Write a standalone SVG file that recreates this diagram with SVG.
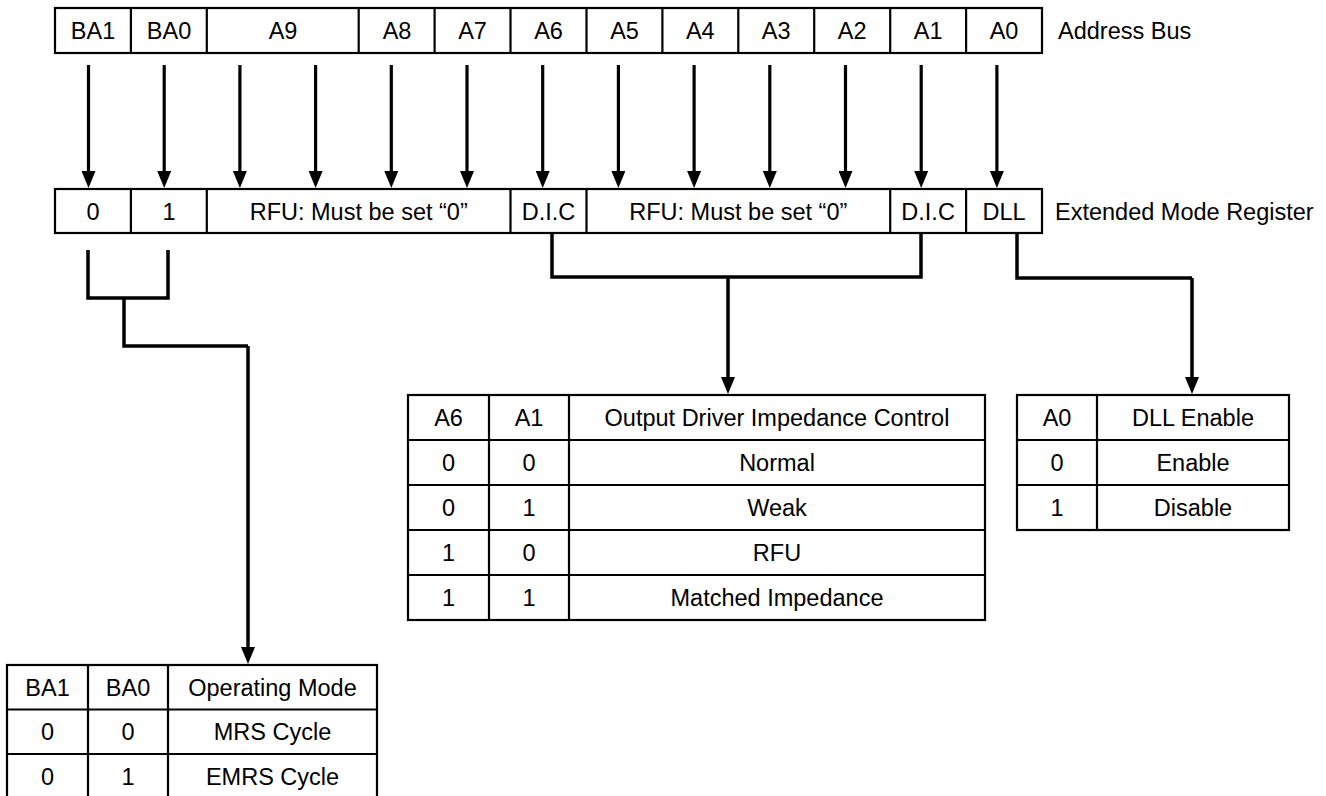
<svg xmlns="http://www.w3.org/2000/svg" width="1326" height="796" viewBox="0 0 1326 796">
<defs>
<marker id="ah" markerUnits="userSpaceOnUse" markerWidth="17" markerHeight="14" refX="0" refY="7" orient="auto">
<path d="M0,0 L17,7 L0,14 z" fill="#000"/>
</marker>
<style>
.box{fill:#fff;stroke:#000;stroke-width:2.2}
.ln{stroke:#000;stroke-width:2.2;fill:none}
.t{font-family:"Liberation Sans",Arial,sans-serif;font-size:23.5px;fill:#000;text-anchor:middle}
.lbl{font-family:"Liberation Sans",Arial,sans-serif;font-size:23.5px;fill:#000;text-anchor:start}
.arr{stroke:#000;stroke-width:3.2;fill:none;marker-end:url(#ah)}
.br{stroke:#000;stroke-width:3.5;fill:none;stroke-linejoin:miter}
</style>
</defs>
<rect width="1326" height="796" fill="#fff"/>

<g id="address-bus">
<rect class="box" x="55" y="8" width="987" height="45"/>
<path class="ln" d="M130.9,8V53M206.8,8V53M358.7,8V53M434.6,8V53M510.5,8V53M586.5,8V53M662.4,8V53M738.3,8V53M814.2,8V53M890.2,8V53M966.1,8V53"/>
<text class="t" x="93" y="39">BA1</text>
<text class="t" x="169" y="39">BA0</text>
<text class="t" x="283" y="39">A9</text>
<text class="t" x="397" y="39">A8</text>
<text class="t" x="472.5" y="39">A7</text>
<text class="t" x="548.5" y="39">A6</text>
<text class="t" x="624.5" y="39">A5</text>
<text class="t" x="700.3" y="39">A4</text>
<text class="t" x="776.2" y="39">A3</text>
<text class="t" x="852.2" y="39">A2</text>
<text class="t" x="928.1" y="39">A1</text>
<text class="t" x="1004" y="39">A0</text>
<text class="lbl" x="1058" y="39">Address Bus</text>
</g>

<g id="mode-register">
<rect class="box" x="55" y="189" width="987" height="44"/>
<path class="ln" d="M130.9,189V233M206.8,189V233M510.5,189V233M586.5,189V233M890.2,189V233M966.1,189V233"/>
<text class="t" x="93" y="219.5">0</text>
<text class="t" x="169" y="219.5">1</text>
<text class="t" x="358.7" y="219.5">RFU: Must be set “0”</text>
<text class="t" x="548.5" y="219.5">D.I.C</text>
<text class="t" x="738.3" y="219.5">RFU: Must be set “0”</text>
<text class="t" x="928.1" y="219.5">D.I.C</text>
<text class="t" x="1004" y="219.5">DLL</text>
<text class="lbl" x="1055" y="219.5">Extended Mode Register</text>
</g>

<g id="connectors">
<line class="arr" x1="88.5" y1="65" x2="88.5" y2="171"/>
<line class="arr" x1="164.2" y1="65" x2="164.2" y2="171"/>
<line class="arr" x1="239.9" y1="65" x2="239.9" y2="171"/>
<line class="arr" x1="315.6" y1="65" x2="315.6" y2="171"/>
<line class="arr" x1="391.3" y1="65" x2="391.3" y2="171"/>
<line class="arr" x1="467" y1="65" x2="467" y2="171"/>
<line class="arr" x1="542.7" y1="65" x2="542.7" y2="171"/>
<line class="arr" x1="618.4" y1="65" x2="618.4" y2="171"/>
<line class="arr" x1="694.1" y1="65" x2="694.1" y2="171"/>
<line class="arr" x1="769.8" y1="65" x2="769.8" y2="171"/>
<line class="arr" x1="845.5" y1="65" x2="845.5" y2="171"/>
<line class="arr" x1="921.2" y1="65" x2="921.2" y2="171"/>
<line class="arr" x1="996.9" y1="65" x2="996.9" y2="171"/>
<path class="br" d="M88,250V298H168V250"/>
<path class="br" d="M124,298V346H248"/>
<path class="arr" style="stroke-width:3.5" d="M248,346V647"/>
<path class="br" d="M552,233V277H921V233"/>
<path class="arr" style="stroke-width:3.5" d="M728,277V377"/>
<path class="br" d="M1017,233V278H1192"/>
<path class="arr" style="stroke-width:3.5" d="M1192,278V377"/>
</g>

<g id="table-operating-mode">
<rect class="box" x="7" y="665" width="370" height="134"/>
<path class="ln" d="M88,665V799M168,665V799M7,709.5H377M7,754H377"/>
<text class="t" x="47.5" y="695.5">BA1</text>
<text class="t" x="128" y="695.5">BA0</text>
<text class="t" x="272.5" y="695.5">Operating Mode</text>
<text class="t" x="47.5" y="740">0</text>
<text class="t" x="128" y="740">0</text>
<text class="t" x="272.5" y="740">MRS Cycle</text>
<text class="t" x="47.5" y="784.5">0</text>
<text class="t" x="128" y="784.5">1</text>
<text class="t" x="272.5" y="784.5">EMRS Cycle</text>
</g>

<g id="table-dic">
<rect class="box" x="408" y="395" width="577" height="225"/>
<path class="ln" d="M489,395V620M569,395V620M408,440H985M408,485H985M408,530H985M408,575H985"/>
<text class="t" x="448.5" y="426">A6</text>
<text class="t" x="529" y="426">A1</text>
<text class="t" x="777" y="426">Output Driver Impedance Control</text>
<text class="t" x="448.5" y="471">0</text>
<text class="t" x="529" y="471">0</text>
<text class="t" x="777" y="471">Normal</text>
<text class="t" x="448.5" y="516">0</text>
<text class="t" x="529" y="516">1</text>
<text class="t" x="777" y="516">Weak</text>
<text class="t" x="448.5" y="561">1</text>
<text class="t" x="529" y="561">0</text>
<text class="t" x="777" y="561">RFU</text>
<text class="t" x="448.5" y="606">1</text>
<text class="t" x="529" y="606">1</text>
<text class="t" x="777" y="606">Matched Impedance</text>
</g>

<g id="table-dll">
<rect class="box" x="1017" y="395" width="272" height="135"/>
<path class="ln" d="M1097,395V530M1017,440H1289M1017,485H1289"/>
<text class="t" x="1057" y="426">A0</text>
<text class="t" x="1193" y="426">DLL Enable</text>
<text class="t" x="1057" y="471">0</text>
<text class="t" x="1193" y="471">Enable</text>
<text class="t" x="1057" y="516">1</text>
<text class="t" x="1193" y="516">Disable</text>
</g>
</svg>
